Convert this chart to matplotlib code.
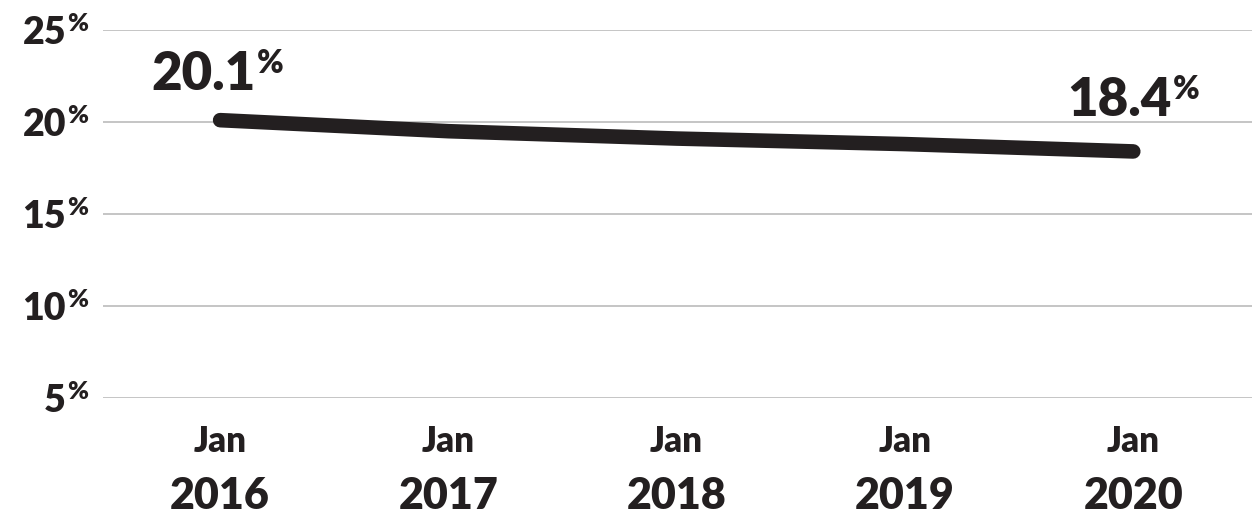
import matplotlib
matplotlib.use("Agg")
import matplotlib.pyplot as plt
import matplotlib.transforms as mtransforms

plt.rcParams["font.family"] = ["Lato", "DejaVu Sans"]
W = "heavy"

# ── data ──────────────────────────────────────────────
years = ["2016", "2017", "2018", "2019", "2020"]
values = [20.1, 19.5, 19.1, 18.8, 18.4]
y_ticks = [5, 10, 15, 20, 25]

INK = "#231f20"
GRID = "#b5b5b5"

fig = plt.figure(figsize=(12.52, 5.15), dpi=100)
ax = fig.add_axes([103 / 1252, 117 / 515, 1 - 103 / 1252, 368 / 515])

x = list(range(len(years)))
ax.plot(x, values, color=INK, linewidth=10.5, solid_capstyle="round", zorder=3)

ax.set_xlim(-0.513, 4.52)
ax.set_ylim(5, 25)
for v in y_ticks:
    ax.axhline(v, color=GRID, linewidth=1.1, zorder=1)
for s in ax.spines.values():
    s.set_visible(False)
ax.set_xticks([])
ax.set_yticks([])

# ── y labels: number + raised % ───────────────────────
ytrans = mtransforms.blended_transform_factory(fig.transFigure, ax.transData)
ytrans = ytrans + mtransforms.ScaledTranslation(0, -3 / 100, fig.dpi_scale_trans)
for v in y_ticks:
    num = ax.text(66 / 1252, v, str(v), transform=ytrans, ha="right", va="center",
                  fontsize=27, fontweight=W, color=INK)
    ax.annotate("%", xy=(1, 1), xycoords=num, xytext=(1, 2),
                textcoords="offset points", ha="left", va="top",
                fontsize=18, fontweight=W, color=INK)

# ── x labels ──────────────────────────────────────────
xtrans = mtransforms.blended_transform_factory(ax.transData, fig.transFigure)
for i, yr in enumerate(years):
    ax.text(i, 1 - 442 / 515, "Jan", transform=xtrans, ha="center", va="center",
            fontsize=25, fontweight=W, color=INK)
    ax.text(i, 1 - 496 / 515, yr, transform=xtrans, ha="center", va="center",
            fontsize=31, fontweight=W, color=INK)

# ── end-point value labels ────────────────────────────
for i, dx, dy in [(0, -17, 30), (len(years) - 1, -14, 35)]:
    t = ax.annotate(f"{values[i]}", xy=(i, values[i]), xytext=(dx, dy),
                    textcoords="offset pixels", ha="center", va="baseline",
                    fontsize=38, fontweight=W, color=INK)
    ax.annotate("%", xy=(1, 1), xycoords=t, xytext=(1, 1),
                textcoords="offset points", ha="left", va="top",
                fontsize=23, fontweight=W, color=INK)

fig.savefig("out.png", dpi=100)
